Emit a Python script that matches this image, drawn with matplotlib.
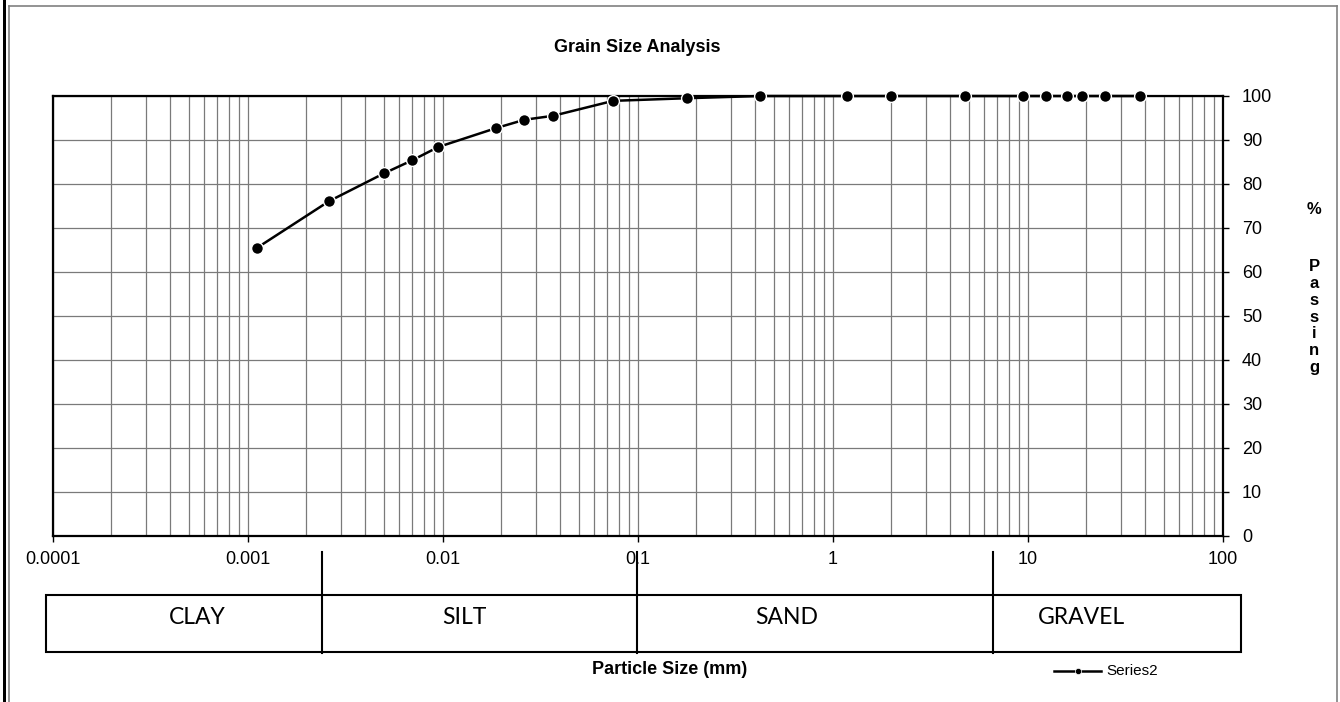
import matplotlib
matplotlib.use('Agg')
import matplotlib.pyplot as plt
from matplotlib.patches import Rectangle
from matplotlib.lines import Line2D
from matplotlib.ticker import LogLocator, FixedLocator, FixedFormatter, NullFormatter

# ---------------- data ----------------
particle_size_mm = [0.00112, 0.00262, 0.005, 0.007, 0.0095, 0.0188, 0.0263, 0.0369,
                    0.075, 0.18, 0.425, 1.18, 2.0, 4.75, 9.5, 12.5, 16.0, 19.0, 25.0, 37.5]
percent_passing = [65.5, 76.1, 82.4, 85.4, 88.4, 92.7, 94.6, 95.5,
                   98.9, 99.5, 100, 100, 100, 100, 100, 100, 100, 100, 100, 100]
x_tick_values = [0.0001, 0.001, 0.01, 0.1, 1, 10, 100]
x_tick_labels = ['0.0001', '0.001', '0.01', '0.1', '1', '10', '100']
y_tick_values = list(range(0, 101, 10))
soil_classes = ['CLAY', 'SILT', 'SAND', 'GRAVEL']
series_name = 'Series2'

# ---------------- layout (pixels) ----------------
W, H = 1340, 702
def fx(x): return x / W
def fy(y): return 1 - y / H

plt.rcParams['font.family'] = ['Liberation Sans', 'DejaVu Sans']

fig = plt.figure(figsize=(W / 100, H / 100), dpi=100)
fig.patch.set_facecolor('white')

# outer frame
fig.add_artist(Rectangle((fx(2.5), 0), 3.5 / W, 1, transform=fig.transFigure,
                         facecolor='black', edgecolor='none'))
fig.add_artist(Line2D([fx(9), fx(9)], [0, fy(6)], transform=fig.transFigure, color='#808080', lw=1.2))
fig.add_artist(Line2D([fx(9), fx(1337)], [fy(6), fy(6)], transform=fig.transFigure, color='#808080', lw=1.2))
fig.add_artist(Line2D([fx(1337), fx(1337)], [fy(6), 0], transform=fig.transFigure, color='#808080', lw=1.2))

ax_l, ax_r, ax_t, ax_b = 52.5, 1222.6, 96, 536
ax = fig.add_axes([fx(ax_l), fy(ax_b), (ax_r - ax_l) / W, (ax_b - ax_t) / H])
ax.set_xscale('log')
ax.set_xlim(x_tick_values[0], x_tick_values[-1])
ax.set_ylim(0, 100)

ax.xaxis.set_major_locator(FixedLocator(x_tick_values))
ax.xaxis.set_major_formatter(FixedFormatter(x_tick_labels))
ax.xaxis.set_minor_locator(LogLocator(base=10, subs=range(2, 10), numticks=20))
ax.xaxis.set_minor_formatter(NullFormatter())

ax.yaxis.tick_right()
ax.set_yticks(y_tick_values)
ax.set_yticklabels([str(v) for v in y_tick_values])

ax.tick_params(axis='x', which='major', direction='out', length=4, width=1, pad=7,
               labelsize=13, colors='black')
ax.tick_params(axis='x', which='minor', length=0)
ax.tick_params(axis='y', which='major', direction='out', length=4, width=1, pad=10,
               labelsize=13, right=True, left=False)

ax.grid(True, which='both', axis='x', color='#7a7a7a', lw=0.9)
ax.grid(True, which='major', axis='y', color='#7a7a7a', lw=0.9)
ax.set_axisbelow(True)
for s in ax.spines.values():
    s.set_linewidth(1.6)
    s.set_color('black')

ax.plot(particle_size_mm, percent_passing, '-o', color='black', lw=1.8, ms=8.5,
        mfc='black', mec='white', mew=1.0, clip_on=False, zorder=5)

# title
fig.text(fx(637), fy(47), 'Grain Size Analysis', ha='center', va='center',
         fontsize=13, fontweight='bold')

# y-axis label stacked
fig.text(fx(1314), fy(209), '%', ha='center', va='center', fontsize=12, fontweight='bold')
fig.text(fx(1314), fy(317), '\n'.join('Passing'), ha='center', va='center',
         fontsize=12, fontweight='bold', linespacing=1.155)

# soil classification table
box_l, box_r, box_t, box_b = 46, 1241, 595, 652
fig.add_artist(Rectangle((fx(box_l), fy(box_b)), (box_r - box_l) / W, (box_b - box_t) / H,
                         transform=fig.transFigure, fill=False, edgecolor='black', lw=1.5))
dividers = [321.5, 637.3, 993.3]
for d in dividers:
    fig.add_artist(Line2D([fx(d), fx(d)], [fy(552), fy(653)], transform=fig.transFigure,
                          color='black', lw=1.5, zorder=10))
label_x = [197, 464, 787, 1081]
for name, lx in zip(soil_classes, label_x):
    fig.text(fx(lx), fy(618), name, ha='center', va='center', fontsize=16.5,
             family=['Lato', 'DejaVu Sans'])

fig.text(fx(670), fy(670), 'Particle Size (mm)', ha='center', va='center',
         fontsize=13, fontweight='bold')

# legend
fig.add_artist(Line2D([fx(1054), fx(1101)], [fy(671), fy(671)], transform=fig.transFigure,
                      color='black', lw=1.8))
fig.add_artist(Line2D([fx(1077.5)], [fy(671)], transform=fig.transFigure, marker='o',
                      ms=4.5, color='black', mec='white', mew=0.5))
fig.text(fx(1106), fy(671), series_name, ha='left', va='center', fontsize=11)

fig.savefig('out.png', dpi=100)
